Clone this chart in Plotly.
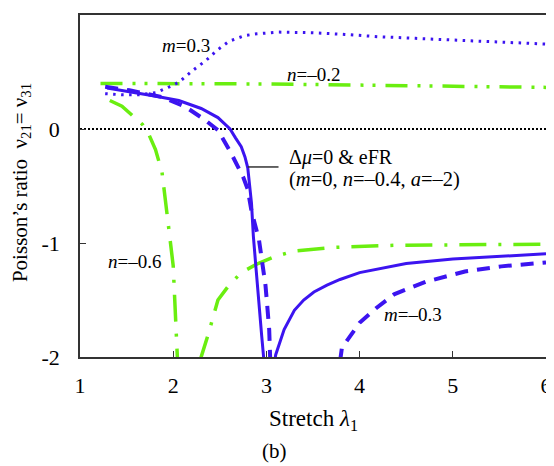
import plotly.graph_objects as go

# ---- data ----
# Delta mu = 0 & eFR (m=0, n=-0.4, a=-2): solid blue, two branches
solid_a_x = [1.29, 1.53, 1.80, 2.06, 2.30, 2.48, 2.61, 2.67, 2.73, 2.77, 2.80, 2.84, 2.86, 2.89, 2.92, 2.95, 2.97, 2.98]
solid_a_y = [0.36, 0.33, 0.29, 0.25, 0.18, 0.10, 0.00, -0.08, -0.155, -0.245, -0.34, -0.65, -0.94, -1.235, -1.56, -1.82, -2.0, -2.2]
solid_b_x = [3.08, 3.10, 3.19, 3.30, 3.40, 3.51, 3.65, 3.79, 4.00, 4.15, 4.50, 5.00, 5.50, 6.00]
solid_b_y = [-2.08, -1.98, -1.76, -1.59, -1.50, -1.43, -1.37, -1.32, -1.26, -1.235, -1.18, -1.14, -1.115, -1.095]

# m = -0.3: dashed blue, two branches
dash_a_x = [1.27, 1.53, 1.88, 2.13, 2.34, 2.48, 2.62, 2.75, 2.80, 2.84, 2.92, 2.96, 2.99, 3.01, 3.03, 3.04, 3.05]
dash_a_y = [0.37, 0.34, 0.28, 0.195, 0.08, -0.01, -0.21, -0.42, -0.53, -0.72, -0.97, -1.17, -1.37, -1.56, -1.76, -2.0, -2.1]
dash_b_x = [3.79, 3.81, 4.00, 4.18, 4.37, 4.71, 5.13, 5.52, 6.00]
dash_b_y = [-2.04, -1.92, -1.70, -1.57, -1.45, -1.34, -1.25, -1.205, -1.17]

# m = 0.3: dotted blue
dot_x = [1.27, 1.45, 1.64, 1.82, 1.96, 2.06, 2.22, 2.35, 2.47, 2.60, 2.77, 2.90, 3.13, 3.48, 3.84, 4.19, 4.60, 5.00, 5.50, 6.00]
dot_y = [0.31, 0.30, 0.30, 0.32, 0.37, 0.41, 0.52, 0.60, 0.69, 0.77, 0.82, 0.835, 0.85, 0.845, 0.83, 0.81, 0.795, 0.78, 0.76, 0.745]

# n = -0.2: green dash-dot-dot
n02_x = [1.22, 2.0, 3.0, 4.0, 5.0, 6.0]
n02_y = [0.40, 0.40, 0.395, 0.385, 0.375, 0.365]

# n = -0.6: green dash-dot, two branches
n06_a_x = [1.32, 1.45, 1.56, 1.67, 1.74, 1.81, 1.88, 1.90, 1.95, 2.00, 2.02, 2.04, 2.05]
n06_a_y = [0.25, 0.20, 0.12, 0.04, -0.05, -0.18, -0.38, -0.50, -0.855, -1.2, -1.61, -2.0, -2.1]
n06_b_x = [2.29, 2.30, 2.38, 2.48, 2.59, 2.73, 2.91, 3.09, 3.30, 3.69, 4.37, 5.00, 6.00]
n06_b_y = [-2.05, -2.0, -1.79, -1.50, -1.38, -1.26, -1.18, -1.12, -1.07, -1.04, -1.02, -1.015, -1.01]

zero_x = [1, 6]
zero_y = [0, 0]

x_ticks = [1, 2, 3, 4, 5, 6]
x_ticktext = ["1", "2", "3", "4", "5", "6"]
y_ticks = [-2, -1, 0, 1]
y_ticktext = ["-2", "-1", "0", "1"]

# labels: (text, x, y, anchor, size)
labels = [
    ("<i>m</i>=0.3", 2.14, 0.73, "center", 19),
    ("<i>n</i>=\u20130.2", 3.51, 0.48, "center", 19),
    ("\u0394<i>\u03bc</i>=0 &amp; eFR", 3.22, -0.25, "left", 20),
    ("(<i>m</i>=0, <i>n</i>=\u20130.4, <i>a</i>=\u20132)", 3.22, -0.44, "left", 20.5),
    ("<i>n</i>=\u20130.6", 1.275, -1.16, "left", 19),
    ("<i>m</i>=\u20130.3", 4.57, -1.63, "center", 19),
]
leader_x = [2.80, 3.13]
leader_y = [-0.333, -0.333]

BLUE = "#3c14f0"
GREEN = "#6aee10"
FONT = "Liberation Serif"

fig = go.Figure()
fig.add_trace(go.Scatter(x=zero_x, y=zero_y, mode="lines",
                         line=dict(color="black", width=2, dash="2px,2px")))
fig.add_trace(go.Scatter(x=n02_x, y=n02_y, mode="lines",
                         line=dict(color=GREEN, width=3.5, dash="22px,10px,3px,9px,3px,10px")))
fig.add_trace(go.Scatter(x=n06_a_x, y=n06_a_y, mode="lines",
                         line=dict(color=GREEN, width=3.5, dash="27px,12px,3px,12px")))
fig.add_trace(go.Scatter(x=n06_b_x, y=n06_b_y, mode="lines",
                         line=dict(color=GREEN, width=3.5, dash="27px,12px,3px,12px")))
fig.add_trace(go.Scatter(x=dot_x, y=dot_y, mode="lines",
                         line=dict(color=BLUE, width=3, dash="2.5px,5.5px")))
fig.add_trace(go.Scatter(x=dash_a_x, y=dash_a_y, mode="lines",
                         line=dict(color=BLUE, width=4, dash="13px,9px")))
fig.add_trace(go.Scatter(x=dash_b_x, y=dash_b_y, mode="lines",
                         line=dict(color=BLUE, width=4, dash="13px,9px")))
fig.add_trace(go.Scatter(x=solid_a_x, y=solid_a_y, mode="lines",
                         line=dict(color=BLUE, width=3)))
fig.add_trace(go.Scatter(x=solid_b_x, y=solid_b_y, mode="lines",
                         line=dict(color=BLUE, width=3)))
fig.add_trace(go.Scatter(x=leader_x, y=leader_y, mode="lines",
                         line=dict(color="#333333", width=1.5)))

for text, lx, ly, anch, sz in labels:
    fig.add_annotation(x=lx, y=ly, xref="x", yref="y", text=text, showarrow=False,
                       xanchor=anch, yanchor="middle",
                       font=dict(family=FONT, size=sz, color="black"))

# axis titles and panel label
fig.add_annotation(x=0.5, y=-0.184, xref="paper", yref="paper",
                   text="Stretch <i>\u03bb</i><sub>1</sub>", showarrow=False,
                   xanchor="center", yanchor="middle",
                   font=dict(family=FONT, size=23, color="black"))
fig.add_annotation(x=-0.127, y=0.511, xref="paper", yref="paper",
                   text="Poisson\u2019s ratio  \u03bd<sub>21</sub>= \u03bd<sub>31</sub>",
                   showarrow=False, textangle=-90, xanchor="center", yanchor="middle",
                   font=dict(family=FONT, size=21, color="black"))
fig.add_annotation(x=(277 - 80) / 472, y=-0.275, xref="paper", yref="paper",
                   text="(b)", showarrow=False, xanchor="center", yanchor="middle",
                   font=dict(family=FONT, size=21, color="black"))

# page body has an 8px margin, so the figure is sized to fit the 554x466 window
fig.update_layout(
    width=546, height=458, autosize=False,
    margin=dict(l=72, r=2, t=7, b=109),
    paper_bgcolor="white", plot_bgcolor="white",
    showlegend=False,
    font=dict(family=FONT, size=22, color="black"),
)
fig.update_xaxes(range=[1, 6], tickvals=x_ticks, ticktext=x_ticktext,
                 ticks="inside", ticklen=6, tickwidth=1.2, tickcolor="#333333",
                 showline=True, linecolor="#333333", linewidth=1.5, mirror=True,
                 showgrid=False, zeroline=False, ticklabelstandoff=8,
                 ticklabeloverflow="allow",
                 tickfont=dict(family=FONT, size=22, color="black"))
fig.update_yaxes(range=[-2, 1], tickvals=y_ticks, ticktext=y_ticktext,
                 ticks="inside", ticklen=6, tickwidth=1.2, tickcolor="#333333",
                 showline=True, linecolor="#333333", linewidth=1.5, mirror=True,
                 showgrid=False, zeroline=False, ticklabelstandoff=14,
                 tickfont=dict(family=FONT, size=22, color="black"))

fig.write_html("out.html")
